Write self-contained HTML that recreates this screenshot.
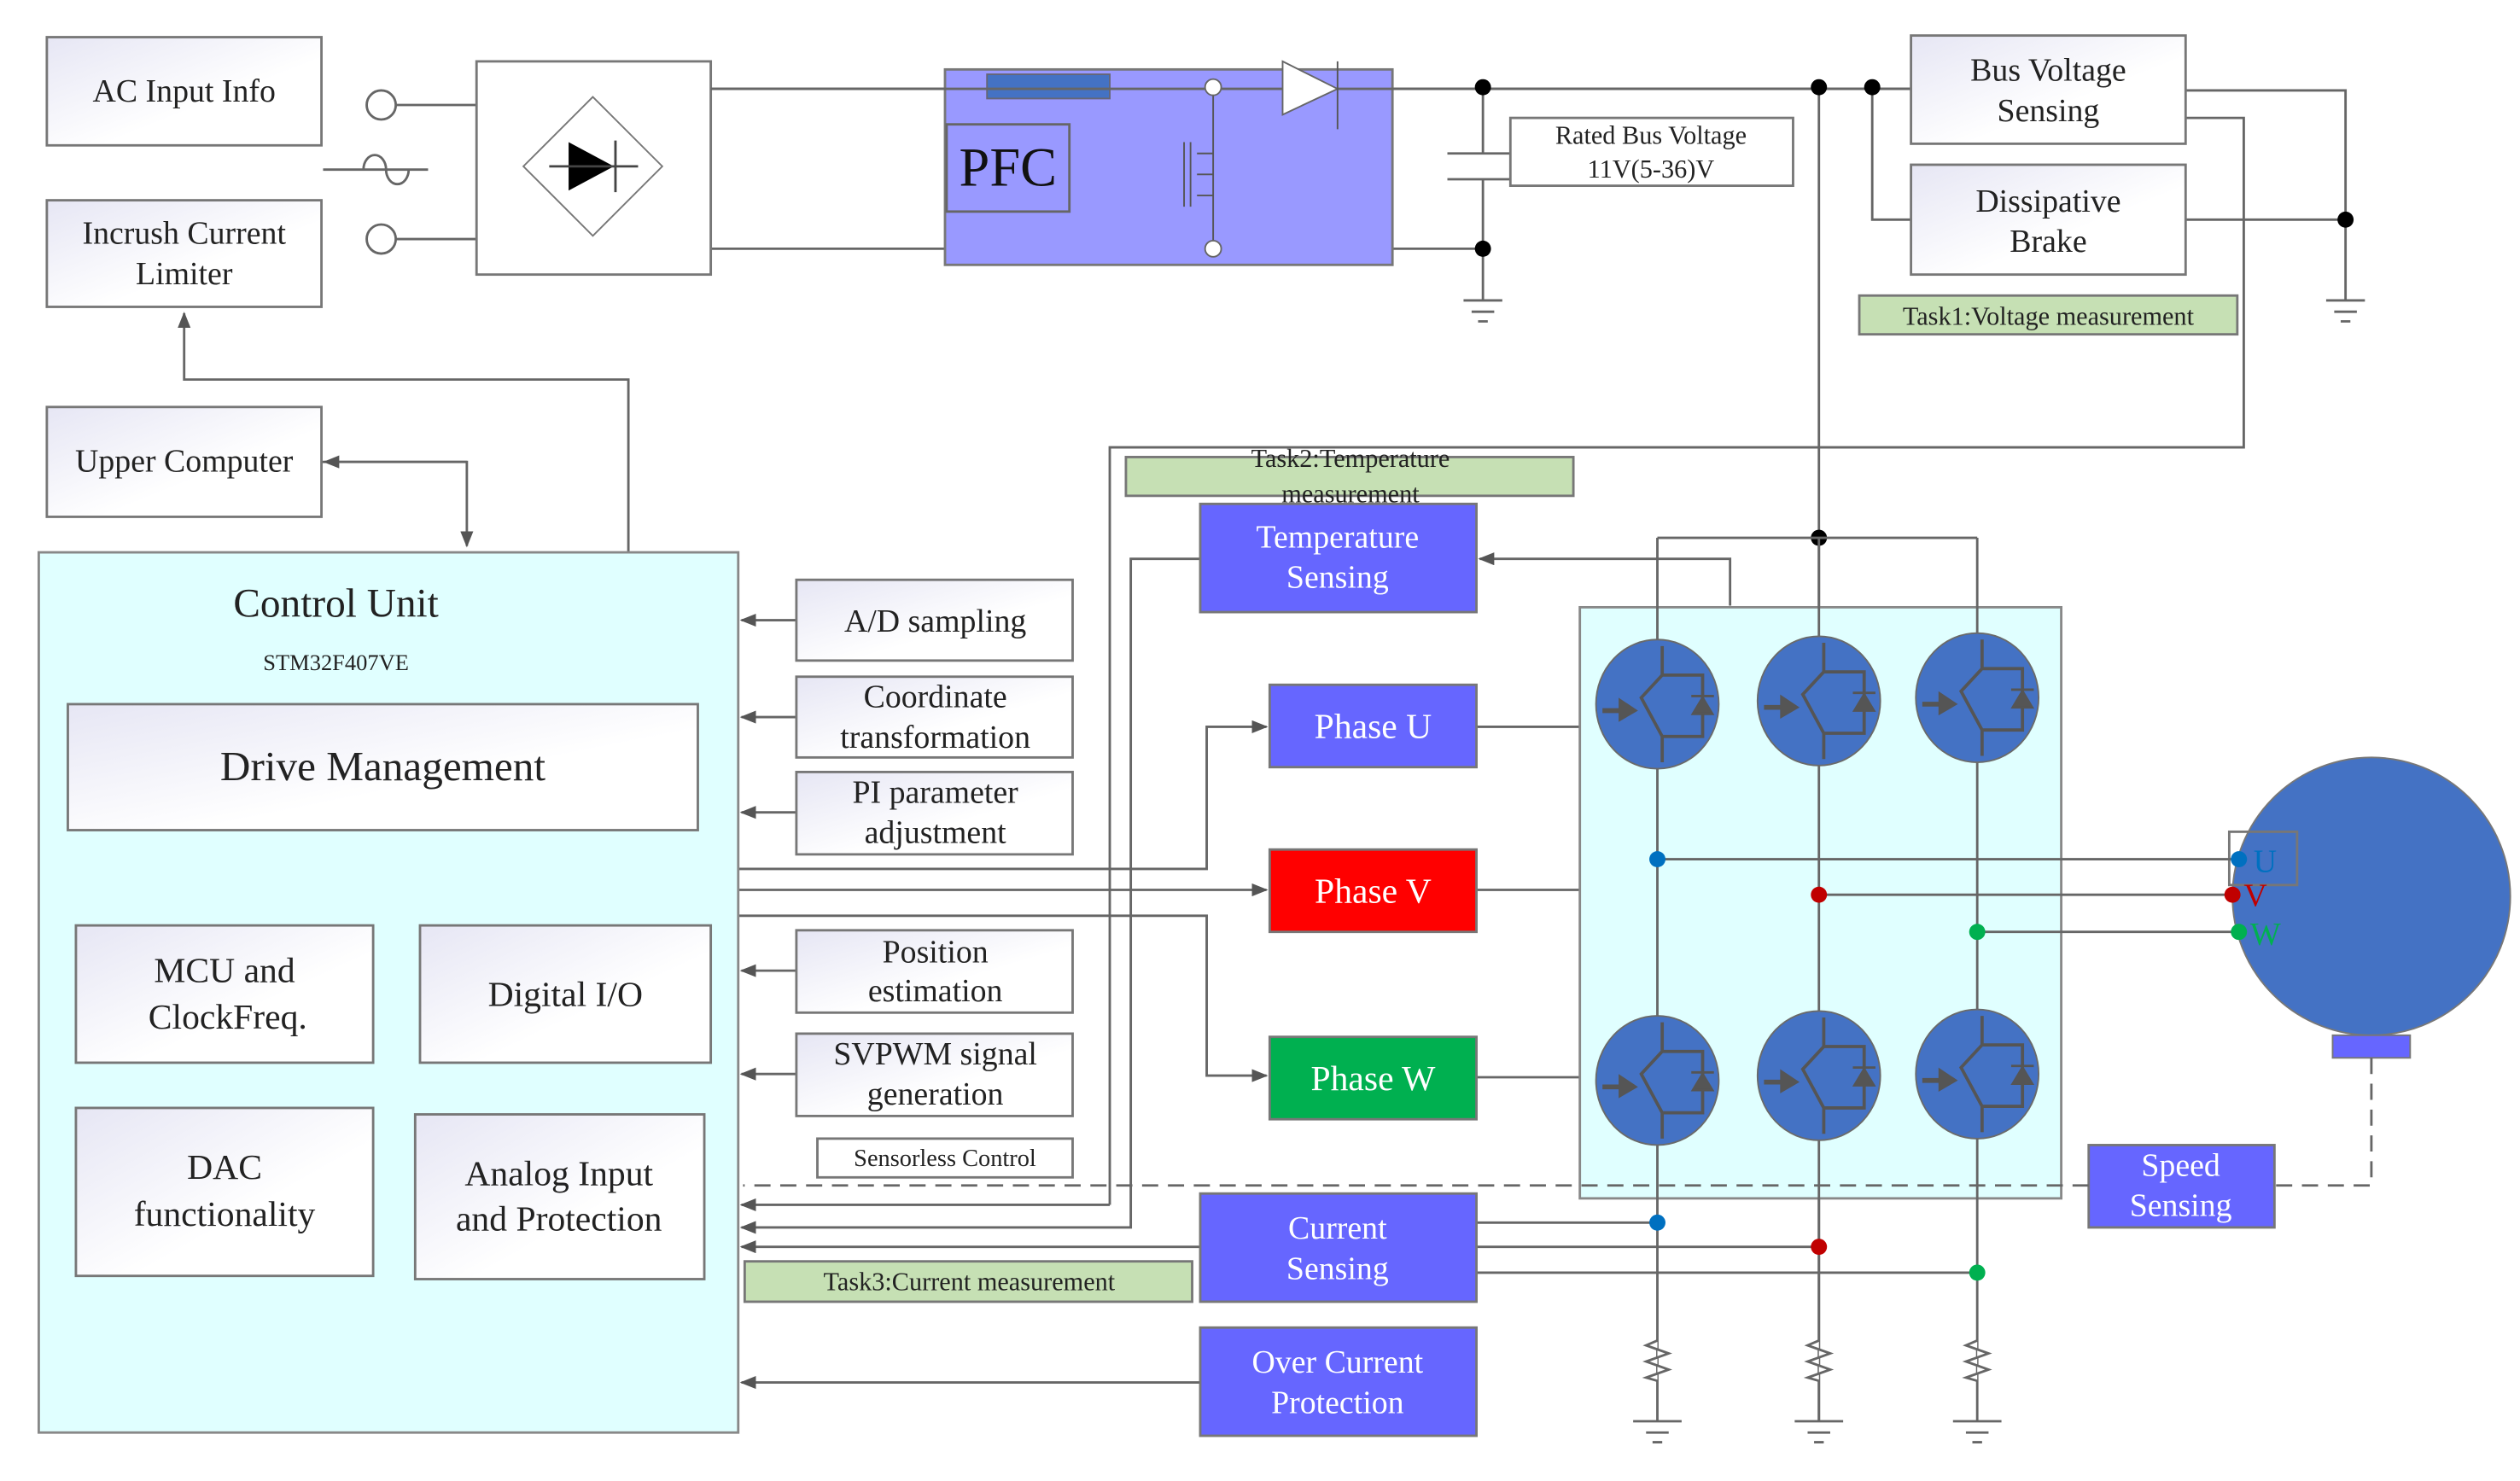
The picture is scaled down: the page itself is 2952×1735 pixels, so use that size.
<!DOCTYPE html>
<html><head><meta charset="utf-8"><style>html,body{margin:0;padding:0;background:#fff}svg{display:block}</style></head>
<body>
<svg width="2952" height="1735" viewBox="0 0 1560 917" preserveAspectRatio="none" xmlns="http://www.w3.org/2000/svg" font-family="Liberation Serif, serif">
<defs>
<linearGradient id="g" x1="0" y1="0" x2="1" y2="1"><stop offset="0" stop-color="#e6e6f4"/><stop offset="0.6" stop-color="#ffffff"/></linearGradient>
<marker id="a" markerWidth="10" markerHeight="8" refX="9" refY="4" orient="auto" markerUnits="userSpaceOnUse"><path d="M0,0 L10,4 L0,8 z" fill="#555"/></marker>
<g id="igbt">
<ellipse cx="0" cy="0" rx="38" ry="40" fill="#4472c4" stroke="#6a6a6a" stroke-width="1"/>
<path d="M3,-36 V-18 M3,20 V36 M3,-18 L-10,-4 L3,20 M3,-18 H28 V20 H3" stroke="#555" stroke-width="2" fill="none"/>
<path d="M-34,4 L-22,4" stroke="#555" stroke-width="3"/><path d="M-24,-4 L-12,4 L-24,11 z" fill="#555"/>
<path d="M22,6 L28,-4 L34,6 z M21,-5 H35" fill="#555" stroke="#555" stroke-width="1.5"/>
</g>
</defs>
<g stroke="#666" stroke-width="1.5" fill="none">
<!-- top power lines -->
<path d="M245,65 H295 M245,148 H295"/>
<path d="M440,55 H1183 M440,154 H918"/>
<path d="M918,54 V95 M896,95 H942 M896,111 H942 M918,111 V186 M906,186 H930 M911,193 H925 M915,199 H921"/>
<path d="M1126,54 V880 M1159,54 V136 H1183"/>
<path d="M1353,56 H1452 V186 M1353,136 H1452 M1440,186 H1464 M1445,193 H1459 M1449,199 H1455"/>
<path d="M1353,73 H1389 V277 H687 V746" />
<path d="M751,54 V154"/>
<path d="M200,105 H265"/>
<!-- control links -->
<path d="M199,286 H289 V338" marker-end="url(#a)"/>
<path d="M289,286 H201" marker-end="url(#a)"/>
<path d="M389,342 V235 H114 V194" marker-end="url(#a)"/>
<path d="M687,746 H459" marker-end="url(#a)"/>
<path d="M743,346 H700 V760 H459" marker-end="url(#a)"/>
<path d="M743,772 H459" marker-end="url(#a)"/>
<path d="M743,856 H459" marker-end="url(#a)"/>
<path d="M493,384 H459" marker-end="url(#a)"/>
<path d="M493,444 H459" marker-end="url(#a)"/>
<path d="M493,503 H459" marker-end="url(#a)"/>
<path d="M493,601 H459" marker-end="url(#a)"/>
<path d="M493,665 H459" marker-end="url(#a)"/>
<path d="M457,538 H747 V450 H784" marker-end="url(#a)"/>
<path d="M457,551 H784" marker-end="url(#a)"/>
<path d="M457,567 H747 V666 H784" marker-end="url(#a)"/>
<path d="M1071,375 V346 H916" marker-end="url(#a)"/>
<path d="M914,450 H978 M914,551 H978 M914,667 H978"/>
<path d="M914,757 H1026 M914,772 H1126 M914,788 H1224"/>
</g>
<!-- Left boxes -->
<g stroke="#777" stroke-width="1.5" fill="url(#g)">
<rect x="29" y="23" width="170" height="67"/>
<rect x="29" y="124" width="170" height="66"/>
<rect x="29" y="252" width="170" height="68"/>
<rect x="295" y="38" width="145" height="132" fill="#fff"/>
</g>
<circle cx="236" cy="65" r="9" fill="#fff" stroke="#666" stroke-width="1.5"/>
<circle cx="236" cy="148" r="9" fill="#fff" stroke="#666" stroke-width="1.5"/>
<path d="M229,105 a7,9 0 0 1 14,0 a7,9 0 0 0 14,0" fill="none" stroke="#666" stroke-width="1.5" transform="translate(-4,0)"/>
<path d="M367,60 L410,103 L367,146 L324,103 z" fill="#fff" stroke="#777" stroke-width="1"/>
<path d="M352,88 L380,103 L352,118 z" fill="#000"/>
<path d="M340,103 H395 M381,87 V119" stroke="#444" stroke-width="1.5"/>
<!-- PFC -->
<rect x="585" y="43" width="277" height="121" fill="#9999ff" stroke="#777" stroke-width="1.5"/>
<rect x="586" y="77" width="76" height="54" fill="#9999ff" stroke="#666" stroke-width="1.5"/>
<rect x="611" y="46" width="76" height="15" fill="#4472c4" stroke="#667" stroke-width="1"/>
<path d="M440,55 H1183" stroke="#666" stroke-width="1.5"/>
<path d="M751,54 V154" stroke="#555" stroke-width="1"/>
<path d="M733,88 V128 M737,88 V128 M741,95 H751 M741,108 H751 M741,121 H751" stroke="#555" stroke-width="1"/>
<circle cx="751" cy="54" r="5" fill="#fff" stroke="#666"/>
<circle cx="751" cy="154" r="5" fill="#fff" stroke="#666"/>
<path d="M794,38 L828,55 L794,71 z" fill="#fff" stroke="#666"/>
<path d="M828,38 V80" stroke="#555"/>
<text x="624" y="115" font-size="34" text-anchor="middle" fill="#111">PFC</text>
<g fill="#000"><circle cx="918" cy="54" r="5"/><circle cx="918" cy="154" r="5"/><circle cx="1126" cy="54" r="5"/><circle cx="1159" cy="54" r="5"/><circle cx="1452" cy="136" r="5"/><circle cx="1126" cy="333" r="5"/></g>
<rect x="935" y="73" width="175" height="42" fill="#fff" stroke="#777" stroke-width="1.5"/>
<g stroke="#777" stroke-width="1.5" fill="url(#g)">
<rect x="1183" y="22" width="170" height="67"/>
<rect x="1183" y="102" width="170" height="68"/>
</g>
<rect x="1151" y="183" width="234" height="24" fill="#c6e0b4" stroke="#777" stroke-width="1.5"/>
<rect x="697" y="283" width="277" height="24" fill="#c6e0b4" stroke="#777" stroke-width="1.5"/>
<!-- Control unit -->
<rect x="24" y="342" width="433" height="545" fill="#e0ffff" stroke="#888" stroke-width="1.5"/>
<g stroke="#777" stroke-width="1.5" fill="url(#g)">
<rect x="42" y="436" width="390" height="78"/>
<rect x="47" y="573" width="184" height="85"/>
<rect x="260" y="573" width="180" height="85"/>
<rect x="47" y="686" width="184" height="104"/>
<rect x="257" y="690" width="179" height="102"/>
<rect x="493" y="359" width="171" height="50"/>
<rect x="493" y="419" width="171" height="50"/>
<rect x="493" y="478" width="171" height="51"/>
<rect x="493" y="576" width="171" height="51"/>
<rect x="493" y="640" width="171" height="51"/>
<rect x="506" y="705" width="158" height="24" fill="#fff"/>
</g>
<!-- blue boxes -->
<g stroke="#777" stroke-width="1.5">
<rect x="743" y="312" width="171" height="67" fill="#6666ff"/>
<rect x="786" y="424" width="128" height="51" fill="#6666ff"/>
<rect x="786" y="526" width="128" height="51" fill="#ff0000"/>
<rect x="786" y="642" width="128" height="51" fill="#00b050"/>
<rect x="743" y="739" width="171" height="67" fill="#6666ff"/>
<rect x="743" y="822" width="171" height="67" fill="#6666ff"/>
<rect x="1293" y="709" width="115" height="51" fill="#6666ff"/>
</g>
<rect x="461" y="781" width="277" height="25" fill="#c6e0b4" stroke="#777" stroke-width="1.5"/>
<!-- bridge -->
<rect x="978" y="376" width="298" height="366" fill="#e0ffff" stroke="#888" stroke-width="1.5"/>
<path d="M1026,333 H1224 M1026,333 V880 M1126,333 V880 M1224,333 V880" stroke="#666" stroke-width="1.5" fill="none"/>
<use href="#igbt" x="1026" y="436"/><use href="#igbt" x="1126" y="434"/><use href="#igbt" x="1224" y="432"/>
<use href="#igbt" x="1026" y="669"/><use href="#igbt" x="1126" y="666"/><use href="#igbt" x="1224" y="665"/>
<ellipse cx="1468" cy="555" rx="86" ry="86" fill="#4472c4" stroke="#777"/>
<rect x="1444" y="641" width="48" height="14" fill="#6666ff" stroke="#777"/>
<rect x="1380" y="515" width="42" height="33" fill="none" stroke="#777" stroke-width="1.5"/>
<path d="M1026,532 H1386 M1126,554 H1382 M1224,577 H1386" stroke="#666" stroke-width="1.5"/>
<circle cx="1026" cy="532" r="5" fill="#0070c0"/><circle cx="1126" cy="554" r="5" fill="#c00000"/><circle cx="1224" cy="577" r="5" fill="#00b050"/>
<circle cx="1386" cy="532" r="5" fill="#0070c0"/><circle cx="1382" cy="554" r="5" fill="#c00000"/><circle cx="1386" cy="577" r="5" fill="#00b050"/>
<circle cx="1026" cy="757" r="5" fill="#0070c0"/><circle cx="1126" cy="772" r="5" fill="#c00000"/><circle cx="1224" cy="788" r="5" fill="#00b050"/>
<text x="1395" y="540" font-size="20" fill="#0070c0">U</text>
<text x="1389" y="561" font-size="20" fill="#c00000">V</text>
<text x="1393" y="585" font-size="20" fill="#00b050">W</text>
<path d="M1468,655 V734 H1408 M1293,734 H460" stroke="#666" stroke-width="1.5" stroke-dasharray="10,6" fill="none"/>
<!-- resistors & grounds -->
<g stroke="#666" stroke-width="1.5" fill="none">
<path d="M1026,830 l-7,3 l14,5 l-14,5 l14,5 l-14,5 l7,2" fill="#fff"/>
<path d="M1126,830 l-7,3 l14,5 l-14,5 l14,5 l-14,5 l7,2" fill="#fff"/>
<path d="M1224,830 l-7,3 l14,5 l-14,5 l14,5 l-14,5 l7,2" fill="#fff"/>
<path d="M1011,880 H1041 M1019,887 H1033 M1023,893 H1029"/>
<path d="M1111,880 H1141 M1119,887 H1133 M1123,893 H1129"/>
<path d="M1209,880 H1239 M1217,887 H1231 M1221,893 H1227"/>
</g>
<!-- texts -->
<g font-size="20" fill="#222" text-anchor="middle">
<text x="114" y="63">AC Input Info</text>
<text x="114" y="151">Incrush Current</text><text x="114" y="176">Limiter</text>
<text x="114" y="292">Upper Computer</text>
<text x="1268" y="50">Bus Voltage</text><text x="1268" y="75">Sensing</text>
<text x="1268" y="131">Dissipative</text><text x="1268" y="156">Brake</text>
<text x="208" y="382" font-size="25">Control Unit</text>
<text x="208" y="415" font-size="14">STM32F407VE</text>
<text x="237" y="483" font-size="26">Drive Management</text>
<text x="139" y="608" font-size="22">MCU and</text><text x="141" y="637" font-size="22">ClockFreq.</text>
<text x="350" y="623" font-size="22">Digital I/O</text>
<text x="139" y="730" font-size="22">DAC</text><text x="139" y="759" font-size="22">functionality</text>
<text x="346" y="734" font-size="22">Analog Input</text><text x="346" y="762" font-size="22">and Protection</text>
<text x="579" y="391">A/D sampling</text>
<text x="579" y="438">Coordinate</text><text x="579" y="463">transformation</text>
<text x="579" y="497">PI parameter</text><text x="579" y="522">adjustment</text>
<text x="579" y="596">Position</text><text x="579" y="620">estimation</text>
<text x="579" y="659">SVPWM signal</text><text x="579" y="684">generation</text>
<text x="585" y="722" font-size="15">Sensorless Control</text>
<text x="1022" y="89" font-size="16">Rated Bus Voltage</text><text x="1022" y="110" font-size="16">11V(5-36)V</text>
<text x="1268" y="201" font-size="16">Task1:Voltage measurement</text>
<text x="836" y="289" font-size="16">Task2:Temperature</text><text x="836" y="311" font-size="16">measurement</text>
<text x="600" y="799" font-size="16">Task3:Current measurement</text>
</g>
<g font-size="20" fill="#fff" text-anchor="middle">
<text x="828" y="339">Temperature</text><text x="828" y="364">Sensing</text>
<text x="850" y="457" font-size="22">Phase U</text>
<text x="850" y="559" font-size="22">Phase V</text>
<text x="850" y="675" font-size="22">Phase W</text>
<text x="828" y="767">Current</text><text x="828" y="792">Sensing</text>
<text x="828" y="850">Over Current</text><text x="828" y="875">Protection</text>
<text x="1350" y="728">Speed</text><text x="1350" y="753">Sensing</text>
</g>
</svg>
</body></html>
